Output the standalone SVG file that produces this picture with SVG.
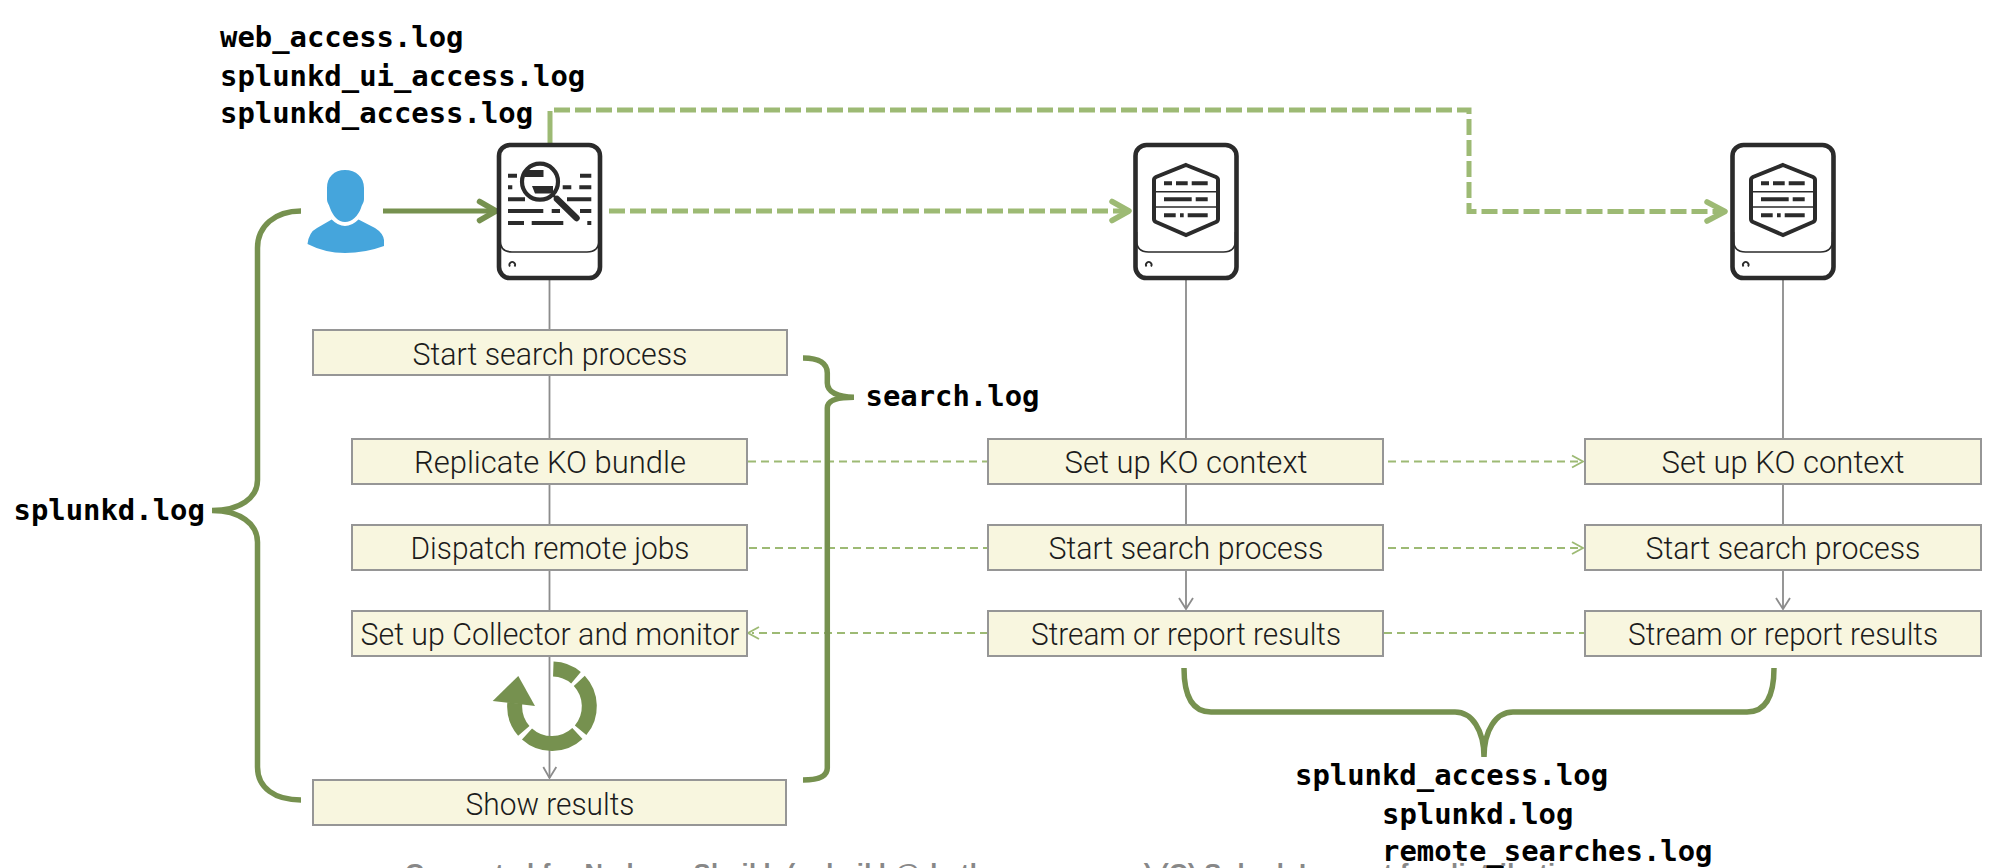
<svg xmlns="http://www.w3.org/2000/svg" width="2008" height="868" viewBox="0 0 2008 868">
<style>
.box{fill:#f8f6df;stroke:#969696;stroke-width:2}
.bt{font-family:"Roboto","Liberation Sans",sans-serif;font-weight:300;font-size:31px;fill:#1c1c1c;text-anchor:middle}
.log{font-family:"DejaVu Sans Mono","Liberation Mono",monospace;font-weight:700;font-size:28.9px;fill:#000}
.srv{fill:#fff;stroke:#2b2b2b;stroke-width:4.6}
.sl{fill:none;stroke:#2b2b2b;stroke-width:1.6}
.ink{fill:none;stroke:#2b2b2b;stroke-width:4}
.hex{fill:none;stroke:#2b2b2b;stroke-width:4}
.div{fill:none;stroke:#2b2b2b;stroke-width:1.5}
.grey{fill:none;stroke:#8c8c8c;stroke-width:1.8}
.thin{fill:none;stroke:#9dba74;stroke-width:1.8;stroke-dasharray:8 5}
.thina{fill:none;stroke:#9dba74;stroke-width:1.8}
.thick{fill:none;stroke:#9dba74;stroke-width:5;stroke-dasharray:16 5}
.head{fill:none;stroke:#9dba74;stroke-width:5.5;stroke-linecap:round;stroke-linejoin:round}
.brace{fill:none;stroke:#76914f;stroke-width:5.5}
.loop{fill:none;stroke:#76914f;stroke-width:15}
</style>

<g id="connectors">
<path class="grey" d="M549.5 279V329M549.5 375V438M549.5 484V524M549.5 570V610M549.5 656V778"/>
<path class="grey" d="M543.3 767L549.5 778L556.3 767"/>
<path class="grey" d="M1186 280V438M1186 484V524M1186 570V609M1179 598L1186 609L1193 598"/>
<path class="grey" d="M1783 280V438M1783 484V524M1783 570V609M1776 598L1783 609L1790 598"/>
<path class="thin" d="M748 461.5H988M749 548H988M988 633H752M1384 633H1585"/>
<path class="thin" d="M1388 461.5H1582M1388 548H1582"/>
<path class="thina" d="M1572 455.5L1583 461.5L1572 467.5M1572 542L1583 548L1572 554M759 627L748 633L759 639"/>
<path fill="none" stroke="#76914f" stroke-width="5" d="M383 211H495"/>
<path fill="none" stroke="#76914f" stroke-width="5.5" stroke-linecap="round" stroke-linejoin="round" d="M479.5 201.5L496 211L479.5 220.5"/>
<path fill="none" stroke="#9dba74" stroke-width="5" d="M550 143V127"/>
<path class="thick" d="M550 127V110H1469V211.5H1725"/>
<path class="thick" d="M609 211H1129"/>
<path class="head" d="M1112 201.5L1129 211L1112 220.5M1707 202L1725 211.5L1707 221"/>
</g>

<g id="log-braces">
<path class="brace" d="M301 211C275 211 257.5 226 257.5 248V480C257.5 498 240 510.5 212 510.5C240 510.5 257.5 524 257.5 542V767C257.5 788 275 800 301 800"/>
<path class="brace" d="M803 358C820 358 827.3 364 827.3 373V383C827.3 392 838 397.3 854 397.3C838 397.3 827.3 400 827.3 408V768C827.3 776 818 780 803 780"/>
<path class="brace" d="M1184 668C1184 696 1192 712 1211 712H1455C1472 712 1484 730 1484 757C1484 730 1496 712 1513 712H1747C1766 712 1774 696 1774 668"/>
</g>

<g id="user">
<path fill="#45a5dc" d="M345 170C334 170 327 177 327 188V199C327 203 329 204 330 208C333 216 338 222 345 222C352 222 358 216 361 208C362 204 364 203 364 199V188C364 177 356 170 345 170Z"/>
<path fill="#45a5dc" d="M331.7 219.5Q338 226 345 226Q352 226 358.5 219.5L375 228Q383 233 384 240V246Q365 253 345 253Q325 253 307.5 244Q309 232 317 228Z"/>
</g>

<g id="search-head">
<rect class="srv" x="499" y="145" width="101" height="133" rx="11"/>
<path class="sl" d="M500 232V240Q500 252 512 252H587Q599 252 599 240V232"/>
<path fill="none" stroke="#2b2b2b" stroke-width="1.8" d="M510 266.5A2.8 2.8 0 1 1 514.5 266.5"/>
<path class="ink" d="M508 175.7H517M580 175.7H591.3M508 187.3H512.3M562.7 187.3H571.3M579.3 187.3H591.3M508 199.3H525M567 199.3H591.3M508 211H543.3M551.7 211H560M580 211H591.3M508 223H524M531.7 223H563.3M587.3 223H591.3"/>
<path fill="#2b2b2b" d="M525 170H543.5V177H525ZM532 186H553V193.5H535Z"/>
<circle cx="540" cy="181.7" r="18" fill="none" stroke="#2b2b2b" stroke-width="4.2"/>
<path fill="none" stroke="#2b2b2b" stroke-width="6.5" stroke-linecap="round" d="M557 199L576.5 218"/>
<path fill="none" stroke="#2b2b2b" stroke-width="2.5" d="M552.5 194.5L556.5 198.5"/>
</g>

<g id="indexer-1">
<rect class="srv" x="1135.5" y="145" width="101" height="133" rx="11"/>
<path class="sl" d="M1136.5 232V240Q1136.5 252 1148.5 252H1223.5Q1235.5 252 1235.5 240V232"/>
<path fill="none" stroke="#2b2b2b" stroke-width="1.8" d="M1146.5 266.5A2.8 2.8 0 1 1 1151 266.5"/>
<path class="hex" d="M1186 165L1216 177Q1218 178 1218 180V219Q1218 221 1216 222L1186 235L1156 222Q1154 221 1154 219V180Q1154 178 1156 177Z"/>
<path class="div" d="M1155 191.7H1217M1155 207H1217"/>
<path class="ink" d="M1164 183.3H1172M1176 183.3H1187.7M1191.7 183.3H1207.7M1164 199.3H1191.7M1195.7 199.3H1207.7M1164 215.3H1175.7M1180 215.3H1183.7M1187.7 215.3H1207.7"/>
</g>

<g id="indexer-2">
<rect class="srv" x="1732.5" y="145" width="101" height="133" rx="11"/>
<path class="sl" d="M1733.5 232V240Q1733.5 252 1745.5 252H1820.5Q1832.5 252 1832.5 240V232"/>
<path fill="none" stroke="#2b2b2b" stroke-width="1.8" d="M1743.5 266.5A2.8 2.8 0 1 1 1748 266.5"/>
<path class="hex" d="M1783 165L1813 177Q1815 178 1815 180V219Q1815 221 1813 222L1783 235L1753 222Q1751 221 1751 219V180Q1751 178 1753 177Z"/>
<path class="div" d="M1752 191.7H1814M1752 207H1814"/>
<path class="ink" d="M1761 183.3H1769M1773 183.3H1784.7M1788.7 183.3H1804.7M1761 199.3H1788.7M1792.7 199.3H1804.7M1761 215.3H1772.7M1777 215.3H1780.7M1784.7 215.3H1804.7"/>
</g>

<g id="sh-start"><rect class="box" x="313" y="330" width="474" height="45"/><text class="bt" x="550" y="364.5" textLength="275" lengthAdjust="spacingAndGlyphs">Start search process</text></g>
<g id="sh-replicate"><rect class="box" x="352" y="439" width="395" height="45"/><text class="bt" x="550" y="473" textLength="272" lengthAdjust="spacingAndGlyphs">Replicate KO bundle</text></g>
<g id="sh-dispatch"><rect class="box" x="352" y="525" width="395" height="45"/><text class="bt" x="550" y="559" textLength="279" lengthAdjust="spacingAndGlyphs">Dispatch remote jobs</text></g>
<g id="sh-collector"><rect class="box" x="352" y="611" width="395" height="45"/><text class="bt" x="550" y="645" textLength="379" lengthAdjust="spacingAndGlyphs">Set up Collector and monitor</text></g>
<g id="sh-results"><rect class="box" x="313" y="780" width="473" height="45"/><text class="bt" x="550" y="815" textLength="169" lengthAdjust="spacingAndGlyphs">Show results</text></g>

<g id="idx1-ko"><rect class="box" x="988" y="439" width="395" height="45"/><text class="bt" x="1186" y="473" textLength="243" lengthAdjust="spacingAndGlyphs">Set up KO context</text></g>
<g id="idx1-start"><rect class="box" x="988" y="525" width="395" height="45"/><text class="bt" x="1186" y="559" textLength="275" lengthAdjust="spacingAndGlyphs">Start search process</text></g>
<g id="idx1-stream"><rect class="box" x="988" y="611" width="395" height="45"/><text class="bt" x="1186" y="645" textLength="310" lengthAdjust="spacingAndGlyphs">Stream or report results</text></g>

<g id="idx2-ko"><rect class="box" x="1585" y="439" width="396" height="45"/><text class="bt" x="1783" y="473" textLength="243" lengthAdjust="spacingAndGlyphs">Set up KO context</text></g>
<g id="idx2-start"><rect class="box" x="1585" y="525" width="396" height="45"/><text class="bt" x="1783" y="559" textLength="275" lengthAdjust="spacingAndGlyphs">Start search process</text></g>
<g id="idx2-stream"><rect class="box" x="1585" y="611" width="396" height="45"/><text class="bt" x="1783" y="645" textLength="310" lengthAdjust="spacingAndGlyphs">Stream or report results</text></g>

<g id="loop-icon">
<path class="loop" d="M553.3 669A37.3 37.3 0 0 1 576 677.7"/>
<path class="loop" d="M579.3 680.9A37.3 37.3 0 0 1 580.6 730.3"/>
<path class="loop" d="M577.4 733.6A37.3 37.3 0 0 1 527 734"/>
<path class="loop" d="M523.8 730.8A37.3 37.3 0 0 1 514.8 703"/>
<path fill="#76914f" d="M518.3 676L492.7 701L535 706Z"/>
</g>

<g id="log-labels">
<text class="log" x="220" y="47">web_access.log</text>
<text class="log" x="220" y="86">splunkd_ui_access.log</text>
<text class="log" x="220" y="123">splunkd_access.log</text>
<text class="log" x="865.5" y="406">search.log</text>
<text class="log" x="13.5" y="520">splunkd.log</text>
<text class="log" x="1295" y="785">splunkd_access.log</text>
<text class="log" x="1382" y="824">splunkd.log</text>
<text class="log" x="1382" y="861">remote_searches.log</text>
</g>

<text x="405" y="881.5" font-family="Liberation Sans, sans-serif" font-weight="700" font-size="25.5" fill="#888" textLength="1182">Generated for Nadeem Shaikh (nshaikh@rhythmgroup.com) (C) Splunk Inc, not for distribution</text>
</svg>
